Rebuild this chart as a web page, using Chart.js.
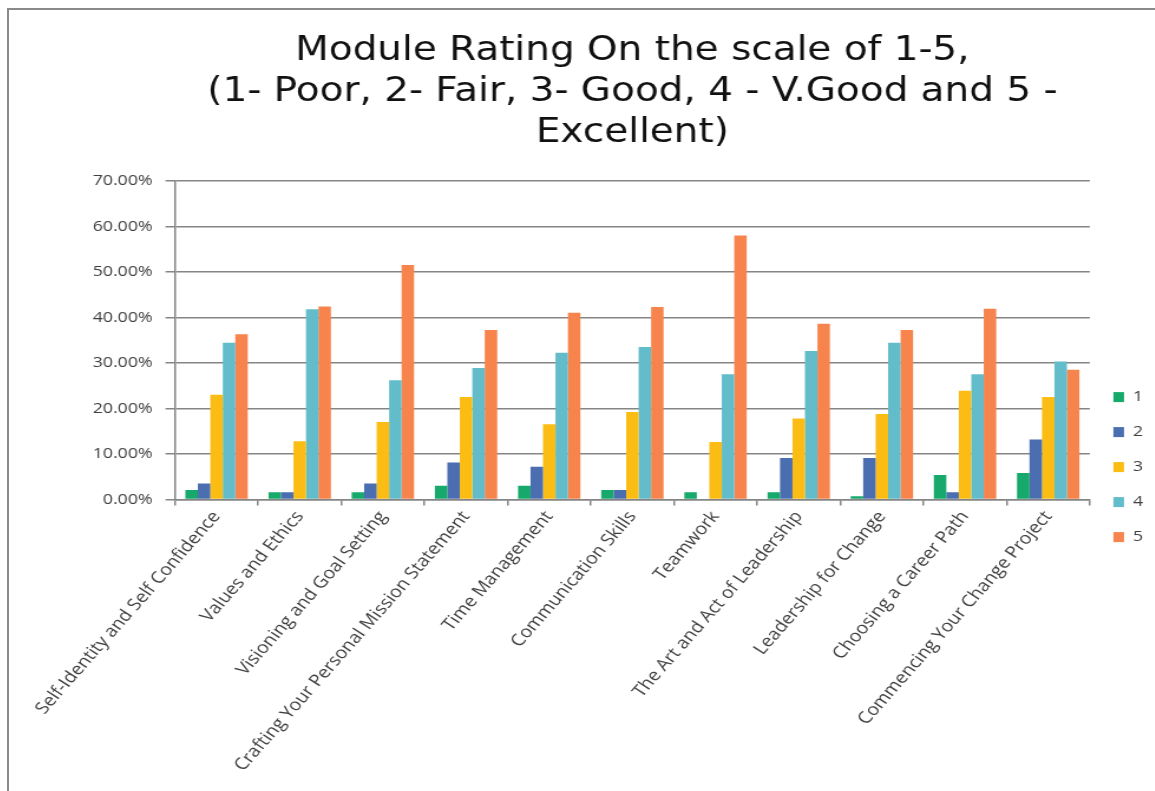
<!DOCTYPE html>
<html>
<head>
<meta charset="utf-8">
<script src="https://cdn.jsdelivr.net/npm/chart.js@4.4.1/dist/chart.umd.min.js"></script>
<style>
    html, body { margin: 0; padding: 0; background: #fff; overflow: hidden; }
    #frame {
        position: absolute; left: 7px; top: 8px; width: 1160px; height: 800px;
        border-left: 2px solid #8a8a8a; border-top: 2px solid #8a8a8a;
    }
    #wrap {
        position: absolute; left: 0; top: 0; width: 971px; height: 781px;
        transform: scaleX(1.18); transform-origin: 0 0;
    }
</style>
</head>
<body>
<div id="frame"><div id="wrap"><canvas id="ratingChart"></canvas></div></div>
<script>
const modules = [
    'Self-Identity and Self Confidence',
    'Values and Ethics',
    'Visioning and Goal Setting',
    'Crafting Your Personal Mission Statement',
    'Time Management',
    'Communication Skills',
    'Teamwork',
    'The Art and Act of Leadership',
    'Leadership for Change',
    'Choosing a Career Path',
    'Commencing Your Change Project'
];

// share of responses (%) per rating
const rating1 = [2.1, 1.6, 1.6, 3.0, 3.0, 2.1, 1.6, 1.6, 0.7, 5.4, 5.8];
const rating2 = [3.5, 1.6, 3.5, 8.1, 7.2, 2.1, 0, 9.1, 9.1, 1.6, 13.2];
const rating3 = [23.0, 12.8, 17.0, 22.5, 16.5, 19.2, 12.6, 17.8, 18.8, 23.9, 22.5];
const rating4 = [34.4, 41.8, 26.2, 28.9, 32.2, 33.5, 27.5, 32.6, 34.4, 27.5, 30.3];
const rating5 = [36.3, 42.4, 51.5, 37.2, 41.0, 42.3, 58.0, 38.6, 37.2, 41.9, 28.5];

const seriesNames = ['1', '2', '3', '4', '5'];
const yTicks = [0, 10, 20, 30, 40, 50, 60, 70];

const colors = ['#17a86b', '#4a6eaf', '#fbbd14', '#62bcc9', '#f7844c'];
const gridColor = '#858585';
const textColor = '#404040';

const series = [rating1, rating2, rating3, rating4, rating5];

const ctx = document.getElementById('ratingChart');
new Chart(ctx, {
    type: 'bar',
    data: {
        labels: modules,
        datasets: series.map((values, i) => ({
            label: seriesNames[i],
            data: values,
            backgroundColor: colors[i],
            borderWidth: 0,
            categoryPercentage: 0.75,
            barPercentage: 1.0
        }))
    },
    options: {
        responsive: true,
        maintainAspectRatio: false,
        animation: false,
        layout: {
            padding: { left: 60, right: 0, top: 14, bottom: 14 }
        },
        scales: {
            y: {
                min: 0,
                max: 70,
                afterBuildTicks: (axis) => {
                    axis.ticks = yTicks.map(v => ({ value: v }));
                },
                border: { color: gridColor, width: 1.5 },
                grid: { color: gridColor, lineWidth: 1.5, tickLength: 8 },
                ticks: {
                    color: textColor,
                    padding: 11,
                    font: { family: 'Open Sans', size: 15 },
                    callback: (v) => v.toFixed(2) + '%'
                }
            },
            x: {
                border: { color: gridColor, width: 1.5 },
                grid: { drawOnChartArea: false, color: gridColor, lineWidth: 1.5, tickLength: 6 },
                ticks: {
                    color: textColor,
                    minRotation: 53,
                    maxRotation: 53,
                    padding: 2,
                    font: { family: 'Open Sans', size: 16.5 }
                }
            }
        },
        plugins: {
            title: {
                display: true,
                fullSize: false,
                text: [
                    'Module Rating On the scale of 1-5,',
                    '(1- Poor, 2- Fair, 3- Good, 4 - V.Good and 5 -',
                    'Excellent)'
                ],
                color: '#111',
                font: { family: 'DejaVu Sans', size: 33, weight: 'normal', lineHeight: 1.24 },
                padding: { top: 7, bottom: 27 }
            },
            legend: {
                position: 'right',
                title: {
                    display: true,
                    text: ' ',
                    font: { size: 1 },
                    padding: { top: 132, bottom: 0 }
                },
                labels: {
                    color: textColor,
                    boxWidth: 9,
                    boxHeight: 10,
                    padding: 20,
                    font: { family: 'Open Sans', size: 15 }
                }
            },
            tooltip: { enabled: false }
        }
    }
});
</script>
</body>
</html>
